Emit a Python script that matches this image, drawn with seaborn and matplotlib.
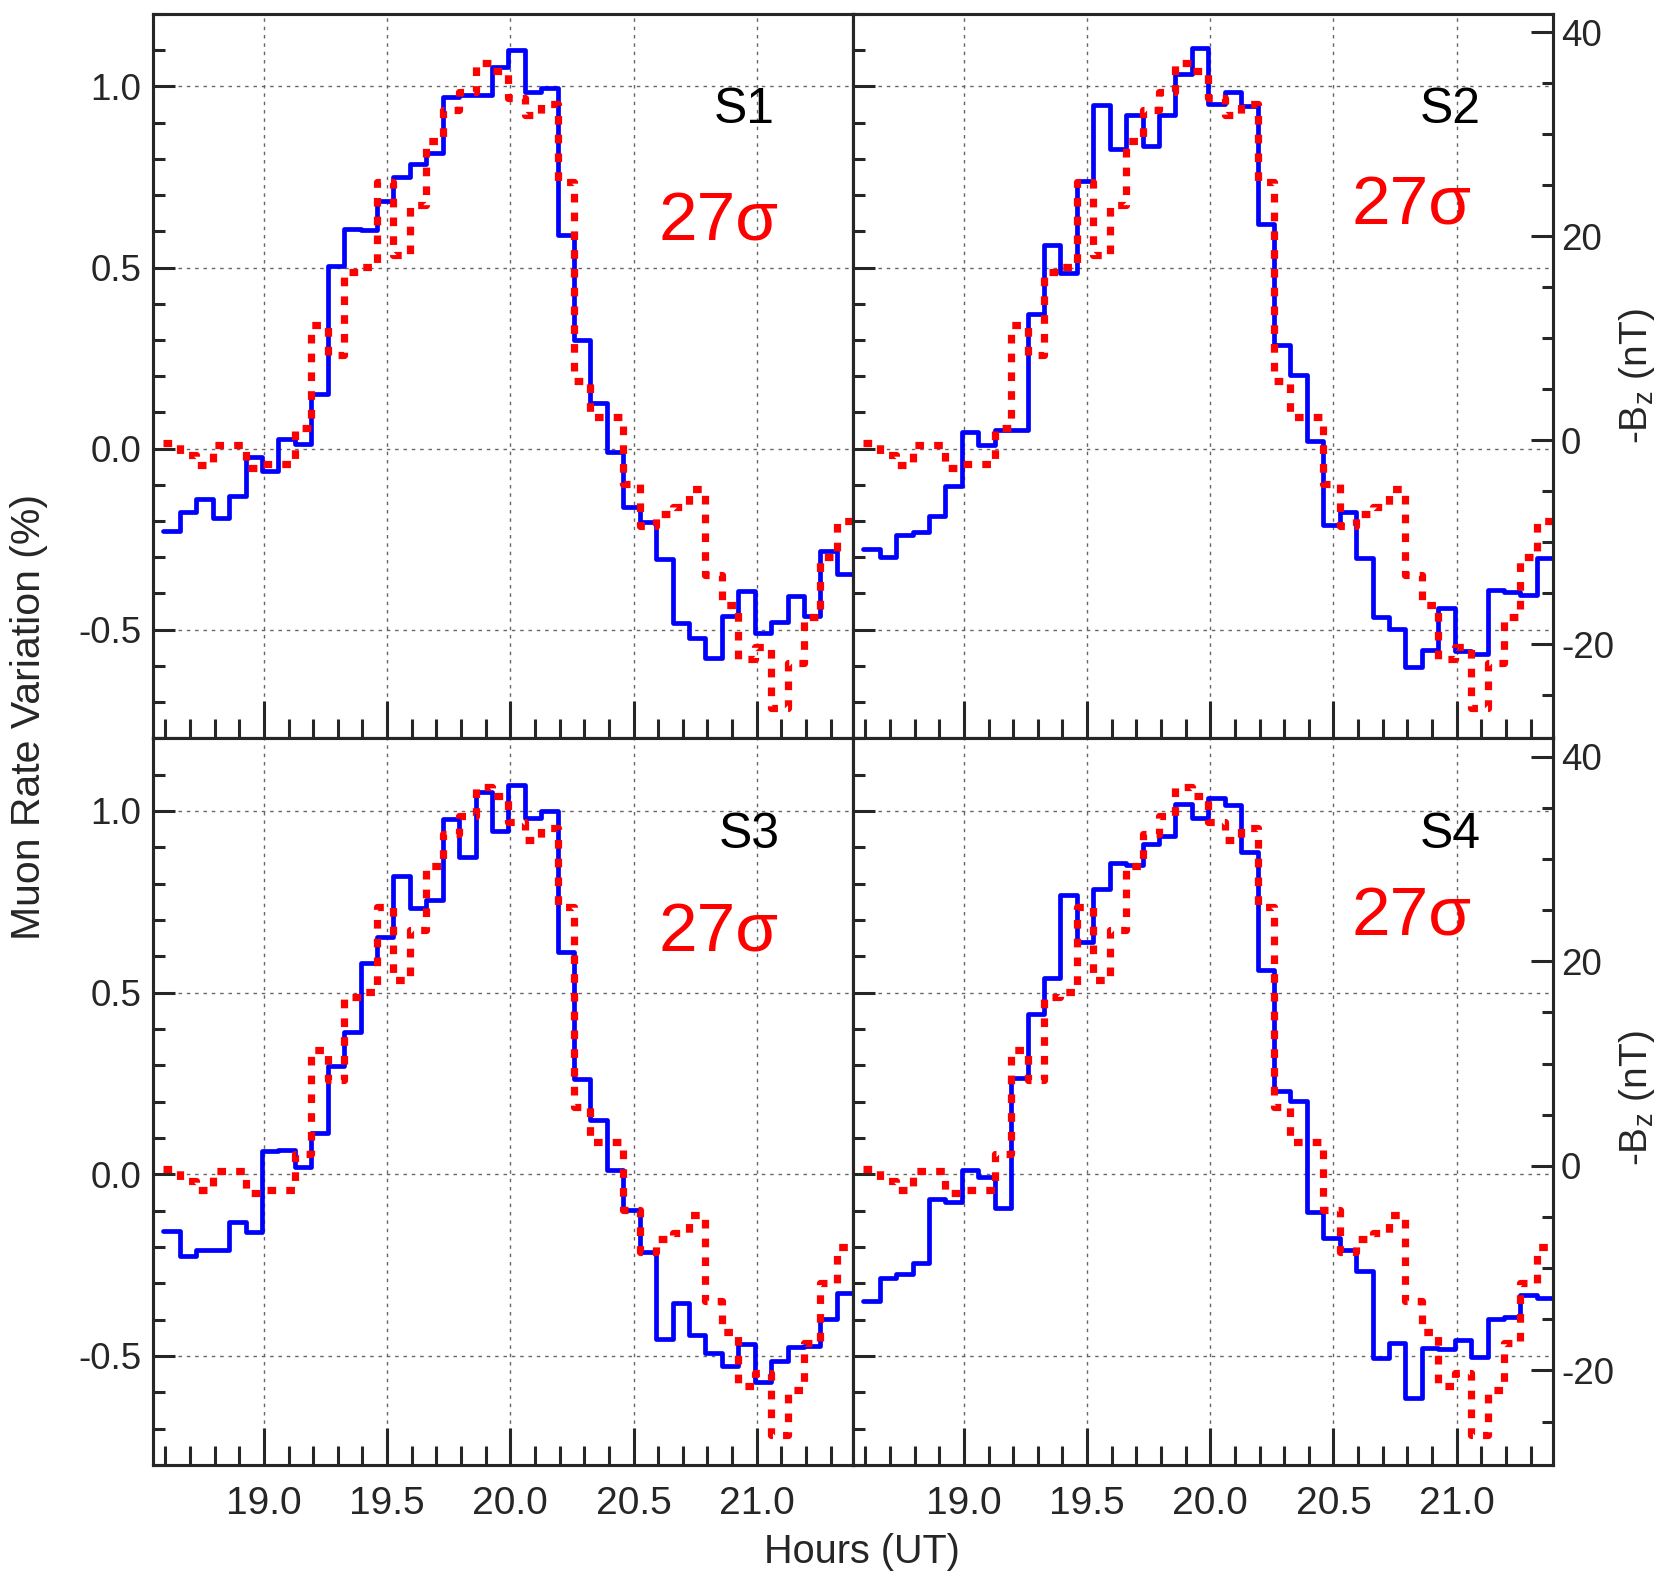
import numpy as np
import pandas as pd
import matplotlib
matplotlib.use("Agg")
import matplotlib.pyplot as plt
import seaborn as sns
from matplotlib.ticker import MultipleLocator, FormatStrFormatter

# 4-minute bins, first edge at ~18:35.5 UT
bin_start = 18.592
bin_minutes = 4
n_bins = 42

# muon rate variation (%) per station
s1_rate = [-0.228, -0.176, -0.139, -0.191, -0.130, -0.023, -0.061, 0.026, 0.013, 0.152,
           0.504, 0.606, 0.603, 0.684, 0.751, 0.785, 0.816, 0.970, 0.977, 0.977,
           1.055, 1.100, 0.986, 0.996, 0.590, 0.299, 0.126, -0.009, -0.160, -0.202,
           -0.306, -0.482, -0.523, -0.577, -0.462, -0.393, -0.510, -0.479, -0.406, -0.462,
           -0.284, -0.345]
s2_rate = [-0.277, -0.299, -0.238, -0.230, -0.186, -0.102, 0.046, 0.010, 0.052, 0.052,
           0.371, 0.563, 0.484, 0.740, 0.948, 0.827, 0.922, 0.837, 0.922, 1.035,
           1.107, 0.951, 0.986, 0.947, 0.621, 0.286, 0.204, 0.022, -0.211, -0.176,
           -0.302, -0.464, -0.499, -0.603, -0.557, -0.440, -0.560, -0.566, -0.391, -0.397,
           -0.404, -0.303]
s3_rate = [-0.156, -0.224, -0.209, -0.209, -0.130, -0.159, 0.065, 0.068, 0.020, 0.115,
           0.297, 0.391, 0.583, 0.652, 0.821, 0.734, 0.756, 0.978, 0.874, 1.052,
           0.945, 1.072, 0.982, 1.000, 0.613, 0.263, 0.150, 0.013, -0.098, -0.215,
           -0.454, -0.355, -0.441, -0.493, -0.528, -0.466, -0.571, -0.515, -0.476, -0.473,
           -0.398, -0.326]
s4_rate = [-0.350, -0.284, -0.274, -0.244, -0.068, -0.076, 0.013, -0.007, -0.094, 0.265,
           0.440, 0.541, 0.769, 0.639, 0.786, 0.858, 0.852, 0.909, 0.932, 1.020,
           0.980, 1.037, 1.017, 0.887, 0.563, 0.228, 0.202, -0.104, -0.176, -0.209,
           -0.267, -0.506, -0.463, -0.615, -0.477, -0.482, -0.456, -0.502, -0.399, -0.392,
           -0.331, -0.340]

# IMF -Bz (nT), same for every panel
neg_bz = [-0.3, -1.5, -2.4, -0.5, -0.5, -2.7, -2.35, -2.35, 1.15, 11.3,
          8.4, 16.5, 17.0, 25.3, 18.2, 23.1, 29.3, 32.4, 34.2, 37.0,
          36.2, 33.6, 31.9, 33.0, 25.3, 5.8, 2.3, 2.3, -4.3, -8.4,
          -7.2, -6.6, -4.8, -13.2, -16.2, -21.5, -20.3, -26.3, -21.9, -17.3,
          -11.5, -7.9]

stations = ["S1", "S2", "S3", "S4"]
rates = [s1_rate, s2_rate, s3_rate, s4_rate]
sigma_text = ["27σ", "27σ", "27σ", "27σ"]

sns.set_style("ticks")
plt.rcParams['font.family'] = ['Liberation Sans', 'DejaVu Sans']
plt.rcParams['mathtext.default'] = 'regular'
plt.rcParams['axes.unicode_minus'] = False
plt.rcParams['axes.linewidth'] = 2.2

edges = bin_start + bin_minutes / 60.0 * np.arange(n_bins + 1)


def steps(values):
    return pd.DataFrame({'hours': edges, 'value': np.append(values, values[-1])})


fig = plt.figure(figsize=(16.6, 15.8), dpi=100)

boxes = [[0.09235, 0.5327, 0.42169, 0.4584],
         [0.514, 0.5327, 0.42169, 0.4584],
         [0.09235, 0.0728, 0.42169, 0.4599],
         [0.514, 0.0728, 0.42169, 0.4599]]
name_pos = [(0.888, 0.849), (0.896, 0.849), (0.895, 0.849), (0.896, 0.849)]
sig_pos = [(0.893, 0.687), (0.883, 0.710), (0.893, 0.707), (0.883, 0.729)]

for i in range(4):
    ax = fig.add_axes(boxes[i])
    sns.lineplot(data=steps(rates[i]), x='hours', y='value', ax=ax, color='#0000ff',
                 lw=3.4, drawstyle='steps-post', estimator=None, sort=False)
    ax.set_xlim(18.551, 21.392)
    ax.set_ylim(-0.8, 1.2)
    ax.xaxis.set_major_locator(MultipleLocator(0.5))
    ax.xaxis.set_minor_locator(MultipleLocator(0.1))
    ax.yaxis.set_major_locator(MultipleLocator(0.5))
    ax.yaxis.set_minor_locator(MultipleLocator(0.1))
    ax.xaxis.set_major_formatter(FormatStrFormatter('%.1f'))
    ax.yaxis.set_major_formatter(FormatStrFormatter('%.1f'))
    ax.tick_params(which='both', direction='in', top=False, right=False, width=2.2,
                   labelbottom=(i >= 2), labelleft=(i % 2 == 0))
    ax.tick_params(axis='x', which='major', length=26.5, labelsize=28, pad=15)
    ax.tick_params(axis='x', which='minor', length=13.5)
    ax.tick_params(axis='y', which='major', length=15.8, labelsize=26.5, pad=8.5)
    ax.tick_params(axis='y', which='minor', length=8.5)
    ax.grid(True, which='major', color='0.4', linestyle=(0, (2.5, 3.5)), linewidth=1.0)
    ax.set_xlabel('')
    ax.set_ylabel('')

    ax2 = ax.twinx()
    sns.lineplot(data=steps(neg_bz), x='hours', y='value', ax=ax2, color='#ff0000',
                 lw=5.2, linestyle=(0, (1.2, 1.4)), drawstyle='steps-post',
                 estimator=None, sort=False)
    ax2.set_ylim(-29.25, 41.8)
    ax2.set_ylabel('')
    ax2.set_xlabel('')
    ax2.yaxis.set_major_locator(MultipleLocator(20))
    ax2.yaxis.set_minor_locator(MultipleLocator(5))
    if i % 2 == 1:
        ax2.tick_params(which='both', direction='in', right=True, left=False, width=2.2)
        ax2.tick_params(which='major', length=15.6, labelsize=26.5, pad=5.5)
        ax2.tick_params(which='minor', length=8)
    else:
        ax2.tick_params(which='both', right=False, labelright=False)

    ax2.text(name_pos[i][0], name_pos[i][1], stations[i], transform=ax.transAxes,
             ha='right', va='baseline', fontsize=36, color='black')
    ax2.text(sig_pos[i][0], sig_pos[i][1], sigma_text[i], transform=ax.transAxes,
             ha='right', va='baseline', fontsize=50, color='#ff0000')

fig.text(0.0172, 0.546, 'Muon Rate Variation (%)', rotation=90,
         ha='center', va='center', fontsize=29.5)
fig.text(0.519, 0.0108, 'Hours (UT)', ha='center', va='baseline', fontsize=28.5)
fig.text(0.986, 0.762, '-B$_z$ (nT)', rotation=90, ha='center', va='center', fontsize=28)
fig.text(0.986, 0.305, '-B$_z$ (nT)', rotation=90, ha='center', va='center', fontsize=28)

fig.savefig('out.png', dpi=100)
